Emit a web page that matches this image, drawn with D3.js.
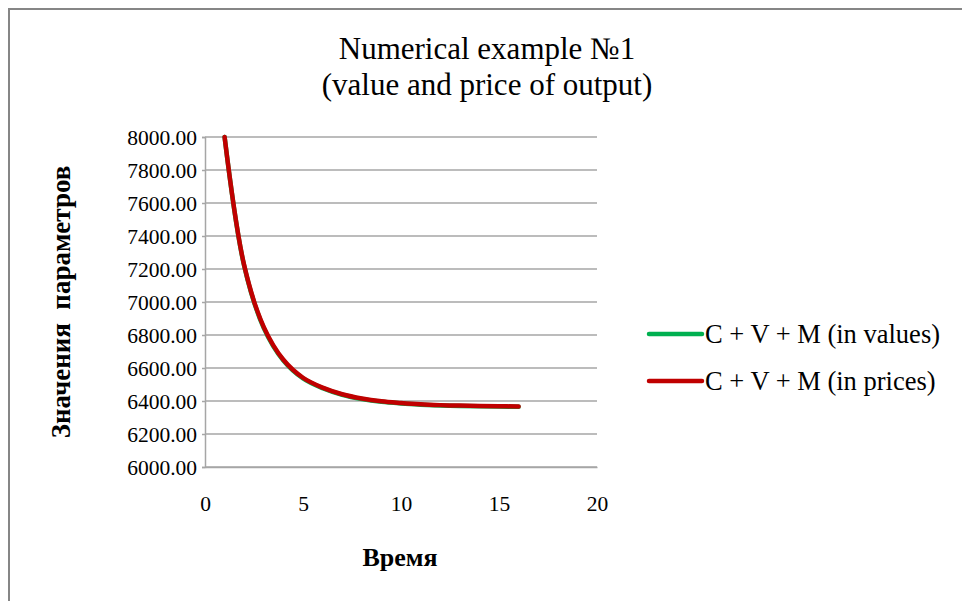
<!DOCTYPE html>
<html>
<head>
<meta charset="utf-8">
<script src="https://cdn.jsdelivr.net/npm/d3@7/dist/d3.min.js"></script>
<style>
  html, body { margin: 0; padding: 0; background: #fff; }
  svg { display: block; }
</style>
</head>
<body>
<svg id="chart" width="962" height="601"></svg>
<script>
// Time periods
const periods = [1, 2, 3, 4, 5, 6, 7, 8, 9, 10, 11, 12, 13, 14, 15, 16];
// C + V + M measured in values
const totalInValues = [8000, 7218, 6842, 6645, 6537, 6478, 6438, 6412, 6395, 6385, 6378, 6373, 6370, 6368, 6366, 6365];
// C + V + M measured in prices
const totalInPrices = [8000, 7222, 6848, 6650, 6541, 6481, 6441, 6415, 6398, 6388, 6380, 6375, 6372, 6370, 6368, 6367];

const seriesNames = ["C + V + M (in values)", "C + V + M (in prices)"];
const seriesColors = ["#00b050", "#c00000"];
const xTicks = [0, 5, 10, 15, 20];
const yTicks = [6000, 6200, 6400, 6600, 6800, 7000, 7200, 7400, 7600, 7800, 8000];
const titleLines = ["Numerical example №1", "(value and price of output)"];
const xTitle = "Время";
const yTitle = "Значения  параметров";

const SERIF = "'Times New Roman', 'Liberation Serif', serif";
const svg = d3.select("#chart");

// chart frame
svg.append("rect")
  .attr("x", 9).attr("y", 9)
  .attr("width", 1000).attr("height", 700)
  .attr("fill", "#fff")
  .attr("stroke", "#868686").attr("stroke-width", 2);

const plot = { left: 205, right: 597, top: 137, bottom: 467 };

const x = d3.scaleLinear().domain([0, 20]).range([plot.left, plot.right]);
const y = d3.scaleLinear().domain([6000, 8000]).range([plot.bottom, plot.top]);

// horizontal gridlines
svg.append("g")
  .selectAll("line")
  .data(yTicks)
  .join("line")
  .attr("x1", plot.left).attr("x2", plot.right)
  .attr("y1", d => y(d)).attr("y2", d => y(d))
  .attr("stroke", "#a6a6a6").attr("stroke-width", 1.5);

// y axis
const yAxis = svg.append("g")
  .attr("transform", `translate(${plot.left},0)`)
  .call(d3.axisLeft(y).tickValues(yTicks).tickSize(3).tickPadding(5).tickFormat(d3.format(".2f")));
yAxis.select(".domain").attr("stroke", "#a6a6a6").attr("stroke-width", 1.5);
yAxis.selectAll(".tick line").attr("stroke", "#a6a6a6").attr("stroke-width", 1.5);
yAxis.selectAll(".tick text")
  .attr("dy", "0.34em")
  .style("font-family", SERIF)
  .style("font-size", "21.5px")
  .attr("fill", "#000");

// x axis
const xAxis = svg.append("g")
  .attr("transform", `translate(0,${plot.bottom})`)
  .call(d3.axisBottom(x).tickValues(xTicks).tickSize(0).tickPadding(29).tickFormat(d3.format("d")));
xAxis.select(".domain").attr("stroke", "#a6a6a6").attr("stroke-width", 1.5);
xAxis.selectAll(".tick text")
  .style("font-family", SERIF)
  .style("font-size", "21.5px")
  .attr("fill", "#000");

// series lines
const line = d3.line()
  .x((d, i) => x(periods[i]))
  .y(d => y(d))
  .curve(d3.curveCatmullRom.alpha(0.5));

[totalInValues, totalInPrices].forEach((vals, k) => {
  svg.append("path")
    .attr("d", line(vals))
    .attr("fill", "none")
    .attr("stroke", seriesColors[k])
    .attr("stroke-width", 4.5)
    .attr("stroke-linecap", "round")
    .attr("stroke-linejoin", "round");
});

// title
svg.append("g")
  .selectAll("text")
  .data(titleLines)
  .join("text")
  .attr("x", 487)
  .attr("y", (d, i) => 59 + i * 36)
  .attr("text-anchor", "middle")
  .style("font-family", SERIF)
  .style("font-size", "31px")
  .attr("fill", "#000")
  .text(d => d);

// axis titles
svg.append("text")
  .attr("x", 400).attr("y", 566)
  .attr("text-anchor", "middle")
  .style("font-family", SERIF)
  .style("font-size", "26px").style("font-weight", "bold")
  .attr("fill", "#000")
  .text(xTitle);

svg.append("text")
  .attr("transform", "translate(70,302) rotate(-90)")
  .attr("text-anchor", "middle")
  .style("font-family", SERIF)
  .style("font-size", "27px").style("font-weight", "bold")
  .style("white-space", "pre")
  .attr("fill", "#000")
  .text(yTitle);

// legend
const legend = svg.append("g");
const legendY = [334, 381];
seriesNames.forEach((name, k) => {
  legend.append("line")
    .attr("x1", 649).attr("x2", 702)
    .attr("y1", legendY[k]).attr("y2", legendY[k])
    .attr("stroke", seriesColors[k]).attr("stroke-width", 4.5)
    .attr("stroke-linecap", "round");
  legend.append("text")
    .attr("x", 705).attr("y", legendY[k] + 9)
    .style("font-family", SERIF)
    .style("font-size", "26.5px")
    .attr("fill", "#000")
    .text(name);
});
</script>
</body>
</html>
